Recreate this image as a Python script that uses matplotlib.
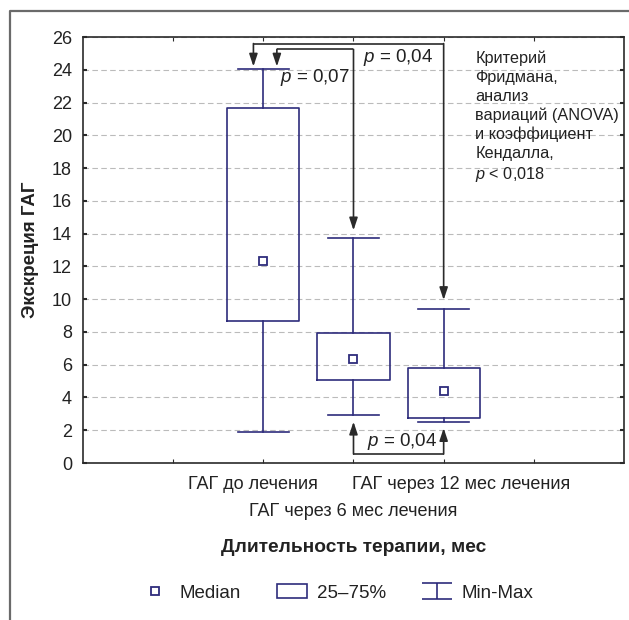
import numpy as np
import matplotlib.pyplot as plt
from matplotlib.lines import Line2D
from matplotlib.patches import Patch
from matplotlib.path import Path

plt.rcParams['font.family'] = ['Liberation Sans', 'DejaVu Sans']
plt.rcParams['mathtext.fontset'] = 'custom'
plt.rcParams['mathtext.rm'] = 'Liberation Sans'
plt.rcParams['mathtext.it'] = 'Liberation Sans:italic'

# данные
groups = ['ГАГ до лечения', 'ГАГ через 6 мес лечения', 'ГАГ через 12 мес лечения']
positions = [2, 3, 4]
mins = [1.9, 2.93, 2.52]
q1s = [8.65, 5.07, 2.73]
medians = [12.3, 6.33, 4.4]
q3s = [21.65, 7.92, 5.82]
maxs = [24.05, 13.72, 9.4]

NAVY = '#2e2c7c'
DARK = '#2a2a2a'
TXT = '#222222'

fig = plt.figure(figsize=(6.29, 6.20), dpi=100)
ax = fig.add_axes([0.132, 0.2532, 0.86, 0.6871])

stats = [dict(med=m, q1=a, q3=b, whislo=lo, whishi=hi, label=g)
         for g, lo, a, m, b, hi in zip(groups, mins, q1s, medians, q3s, maxs)]
ax.bxp(stats, positions=positions, widths=0.8, capwidths=0.56,
       showfliers=False, patch_artist=False,
       boxprops=dict(color=NAVY, lw=1.2),
       whiskerprops=dict(color=NAVY, lw=1.2),
       capprops=dict(color=NAVY, lw=1.2),
       medianprops=dict(lw=0))
ax.plot(positions, medians, ls='none', marker='s', ms=6, mfc='white',
        mec=NAVY, mew=1.3, zorder=5)

ax.set_xlim(0, 6)
ax.set_ylim(0, 26)
ax.set_yticks(np.arange(0, 27, 2))
ax.set_xticks([1, 2, 3, 4, 5])
ax.set_xticklabels([])
ax.tick_params(axis='y', labelsize=13, colors=DARK, labelcolor=TXT,
               direction='in', length=3, width=1.5, right=True, pad=8)
ax.tick_params(axis='x', direction='in', length=3, top=True, colors=DARK)
ax.yaxis.grid(True, ls=(0, (5, 3)), color='#bbbbbb', lw=0.8)
ax.set_axisbelow(True)
for s in ax.spines.values():
    s.set_color(DARK)
    s.set_linewidth(1.2)

# подписи категорий в два ряда
trans = ax.get_xaxis_transform()
ax.text(2 - 0.11, -0.05, groups[0], transform=trans, ha='center', va='center',
        fontsize=13, color=TXT)
ax.text(3, -0.113, groups[1], transform=trans, ha='center', va='center',
        fontsize=13, color=TXT)
ax.text(4 + 0.19, -0.05, groups[2], transform=trans, ha='center', va='center',
        fontsize=13, color=TXT)

ax.set_ylabel('Экскреция ГАГ', fontsize=13.5, fontweight='bold', color=TXT,
              labelpad=9)
fig.text(0.5615, 1 - 548 / 620, 'Длительность терапии, мес', ha='center',
         va='center', fontsize=13.8, fontweight='bold', color=TXT)

# стрелки сравнений
arr = dict(arrowstyle='-|>,head_length=0.75,head_width=0.25', color=DARK,
           lw=1.2, shrinkA=0, shrinkB=0, mutation_scale=10)


def bracket(x1, x2, y, tip1, tip2):
    ax.plot([x1, x2], [y, y], color=DARK, lw=1.2, solid_capstyle='butt')
    ax.annotate('', xy=(x1, tip1), xytext=(x1, y), arrowprops=arr)
    ax.annotate('', xy=(x2, tip2), xytext=(x2, y), arrowprops=arr)


bracket(1.89, 4.0, 25.6, 24.2, 9.95)
bracket(2.15, 3.0, 25.25, 24.2, 14.2)
bracket(3.0, 4.0, 0.55, 2.52, 2.13)

ax.text(2.18, 23.55, r'$\mathit{p}$ = 0,07', fontsize=13.5, color=TXT, va='center')
ax.text(3.10, 24.75, r'$\mathit{p}$ = 0,04', fontsize=13.5, color=TXT, va='center')
ax.text(3.15, 1.3, r'$\mathit{p}$ = 0,04', fontsize=13.5, color=TXT, va='center')

ax.text(4.35, 25.15, 'Критерий\nФридмана,\nанализ\nвариаций (ANOVA)\nи коэффициент\n'
        'Кендалла,\n' + r'$\mathit{p}$ < 0,018', fontsize=11.7, color=TXT,
        va='top', ha='left', linespacing=1.3)

# легенда
minmax = Path([(-1, 0.5), (1, 0.5), (0, 0.5), (0, -0.5), (-1, -0.5), (1, -0.5)],
              [Path.MOVETO, Path.LINETO, Path.MOVETO, Path.LINETO,
               Path.MOVETO, Path.LINETO])
handles = [
    Line2D([], [], ls='none', marker='s', ms=6, mfc='white', mec=NAVY, mew=1.3),
    Patch(facecolor='white', edgecolor=NAVY, lw=1.2),
    Line2D([], [], ls='none', marker=minmax, ms=22, mfc='none', mec=NAVY, mew=1.2),
]
fig.legend(handles, ['Median', '25–75%', 'Min-Max'], loc='center',
           bbox_to_anchor=(0.535, 1 - 593 / 620), ncol=3, frameon=False,
           fontsize=13.5, handlelength=1.65, columnspacing=1.9,
           handletextpad=0.5, labelcolor=TXT)

# рамка рисунка
fig.add_artist(Line2D([10 / 629, 10 / 629, 1], [0, 1 - 11 / 620, 1 - 11 / 620],
                      transform=fig.transFigure, color='#6a6a6a', lw=1.6))

fig.savefig('out.png', dpi=100)
